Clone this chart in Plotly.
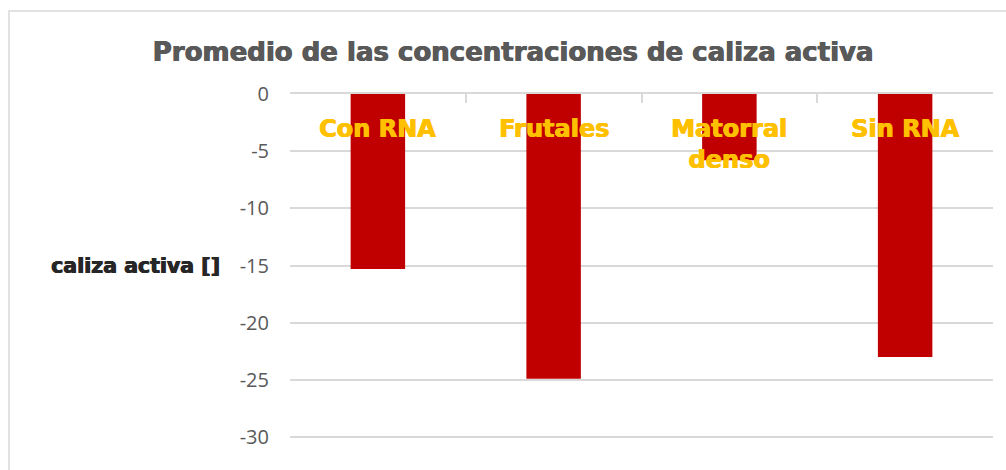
import plotly.graph_objects as go

# Average active limestone per land-use category
categorias = ["Con RNA", "Frutales", "Matorral denso", "Sin RNA"]
etiquetas = ["Con RNA", "Frutales", "Matorral<br>denso", "Sin RNA"]
caliza_activa = [-15.3, -24.9, -5.8, -23.0]
y_ticks = [0, -5, -10, -15, -20, -25, -30]

titulo = "Promedio de las concentraciones de caliza activa"
titulo_eje_y = "caliza activa []"

W, H = 1006, 470
M_L, M_R, M_T, M_B = 290, 13, 94, 0
GRID = "#D9D9D9"


def heavy(size, color):
    # bold face, thickened a little with a horizontal text shadow
    return dict(
        family="DejaVu Sans",
        weight="bold",
        size=size,
        color=color,
        shadow=f"0.7px 0 0 {color}, -0.3px 0 0 {color}",
    )


fig = go.Figure(
    go.Bar(
        x=categorias,
        y=caliza_activa,
        marker=dict(color="#C00000", line=dict(width=0)),
        width=0.31,
    )
)

# category names sit just under the zero line, inside the plot
cat_labels = [
    dict(
        text=t,
        x=c,
        y=0,
        xref="x",
        yref="y",
        xanchor="center",
        yanchor="top",
        yshift=-19,
        showarrow=False,
        font=heavy(24, "#FFC000"),
    )
    for c, t in zip(categorias, etiquetas)
]

fig.update_layout(
    width=W,
    height=H,
    margin=dict(l=M_L, r=M_R, t=M_T, b=M_B),
    paper_bgcolor="white",
    plot_bgcolor="white",
    showlegend=False,
    title=dict(
        text=titulo,
        x=513 / W,
        xanchor="center",
        y=1 - 52 / H,
        yanchor="middle",
        yref="container",
        font=heavy(26, "#595959"),
    ),
    xaxis=dict(
        side="top",
        showline=True,
        linecolor=GRID,
        linewidth=1.5,
        ticks="inside",
        tickson="boundaries",
        ticklen=9,
        tickwidth=1.5,
        tickcolor=GRID,
        showticklabels=False,
        showgrid=False,
        fixedrange=True,
    ),
    yaxis=dict(
        range=[-(H - M_T) / (57.2 / 5), 0],
        tickvals=y_ticks,
        ticktext=[str(v) for v in y_ticks],
        showgrid=True,
        gridcolor=GRID,
        gridwidth=1.5,
        zeroline=False,
        showline=False,
        ticks="",
        ticklabelstandoff=20,
        tickfont=dict(family="Open Sans", size=20, color="#595959"),
    ),
    annotations=cat_labels
    + [
        dict(
            text=titulo_eje_y,
            xref="paper",
            yref="paper",
            x=(222 - M_L) / (W - M_L - M_R),
            y=(H - 266) / (H - M_T - M_B),
            xanchor="right",
            yanchor="middle",
            showarrow=False,
            font=heavy(20.5, "#262626"),
        )
    ],
    shapes=[
        # chart-area border (top and left edges visible)
        dict(
            type="path",
            xref="paper",
            yref="paper",
            path="M {x0},{y0} L {x0},{y1} L {x2},{y1}".format(
                x0=(9 - M_L) / (W - M_L - M_R),
                y0=-0.1,
                y1=(H - 11) / (H - M_T - M_B),
                x2=(W + 10 - M_L) / (W - M_L - M_R),
            ),
            line=dict(color=GRID, width=1.5),
            layer="below",
        )
    ],
)

fig.write_html("out.html")
